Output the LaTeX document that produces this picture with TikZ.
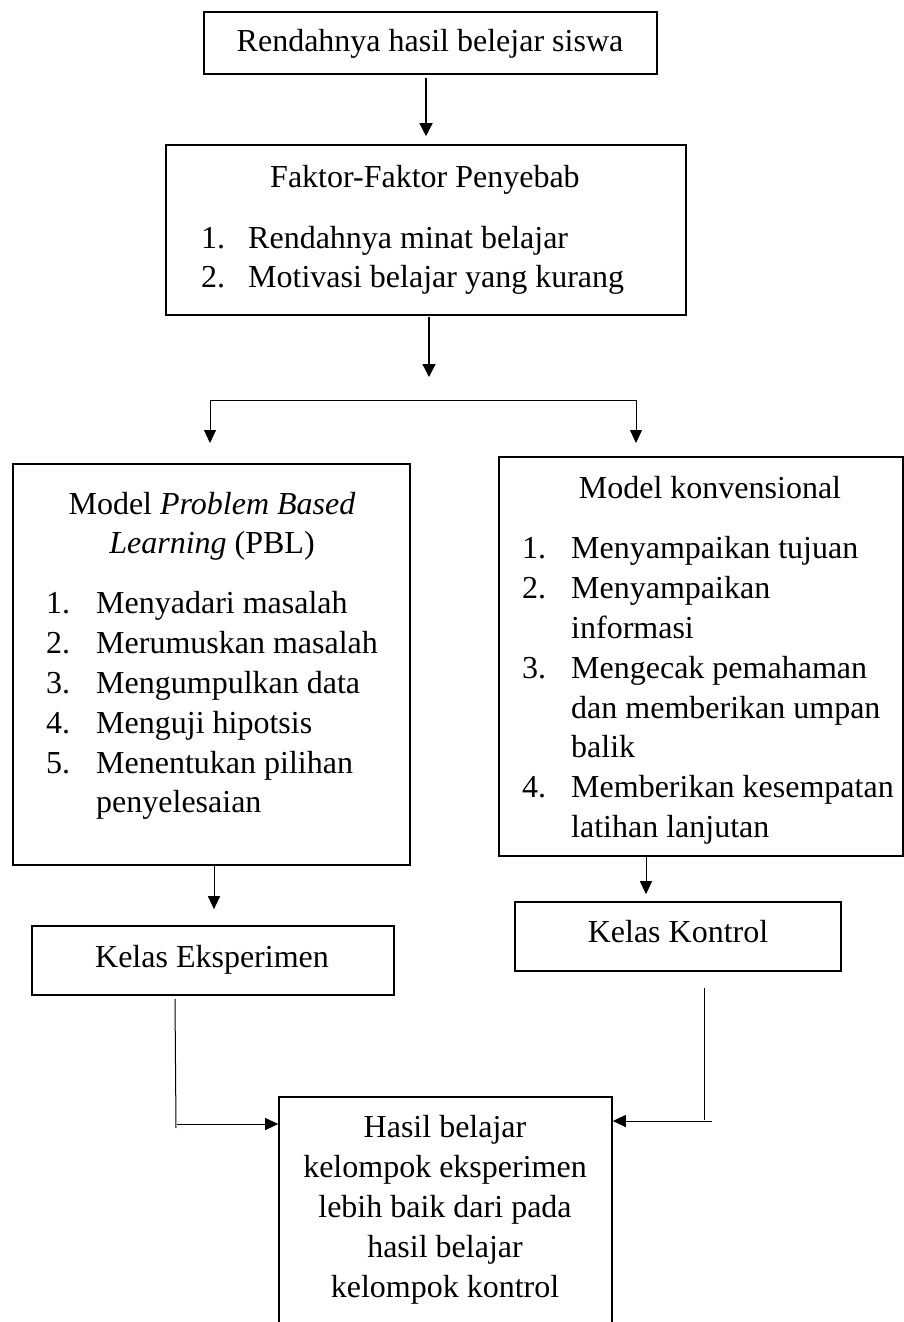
\documentclass[tikz,border=0pt]{standalone}
\usepackage{fontspec}
\setmainfont{Liberation Serif}
\usetikzlibrary{arrows.meta,calc}
\begin{document}
\begin{tikzpicture}[x=1pt,y=-1pt,
  box/.style={draw, line width=1.6pt, inner sep=0pt},
  txt/.style={inner sep=0pt, font=\fontsize{32}{40}\selectfont},
  conn/.style={line width=1pt},
  arr/.style={conn, -{Triangle[length=13pt,width=12pt]}},
  arrb/.style={line width=1.4pt, -{Triangle[length=13pt,width=13pt]}}]
\useasboundingbox (0,0) rectangle (904,1322);
\clip (0,0) rectangle (904,1322);
\fill[white] (0,0) rectangle (904,1322);
% boxes
\node[box, minimum width=453pt, minimum height=62pt] (b1) at (430.5,43) {};
\node[box, minimum width=520pt, minimum height=170pt] (b2) at (426,230) {};
\node[box, minimum width=397pt, minimum height=401pt] (pbl) at (211.5,664.5) {};
\node[box, minimum width=404pt, minimum height=399pt] (konv) at (701,656.5) {};
\node[box, minimum width=362pt, minimum height=69pt] (ke) at (213,960.5) {};
\node[box, minimum width=326pt, minimum height=69pt] (kk) at (678,936.5) {};
\node[box, minimum width=333pt, minimum height=243pt] (hasil) at (445.5,1218.5) {};
% texts
\node[txt, anchor=base] (t1) at (430,52) {Rendahnya hasil belejar siswa};
\node[txt, anchor=base] (t2) at (425,187) {Faktor-Faktor Penyebab};
\foreach \n/\t/\y [count=\i] in {1./Rendahnya minat belajar/248, 2./Motivasi belajar yang kurang/287}{
  \node[txt, anchor=base west] (fn\i) at (201,\y) {\n};
  \node[txt, anchor=base west] (ft\i) at (248,\y) {\t};
}
\node[txt, anchor=base] (pt1) at (212,514) {Model \textit{Problem Based}};
\node[txt, anchor=base] (pt2) at (212,553) {\textit{Learning} (PBL)};
\foreach \n/\t/\y [count=\i] in {1./Menyadari masalah/613, 2./Merumuskan masalah/653, 3./Mengumpulkan data/693, 4./Menguji hipotsis/733, 5./Menentukan pilihan/773, /penyelesaian/812}{
  \node[txt, anchor=base west] (pn\i) at (46,\y) {\n};
  \node[txt, anchor=base west] (pi\i) at (96,\y) {\t};
}
\node[txt, anchor=base] (kt1) at (710,498) {Model konvensional};
\foreach \n/\t/\y [count=\i] in {1./Menyampaikan tujuan/558, 2./Menyampaikan/598, /informasi/638, 3./Mengecak pemahaman/678, /dan memberikan umpan/718, /balik/757, 4./Memberikan kesempatan/797, /latihan lanjutan/837}{
  \node[txt, anchor=base west] (kn\i) at (522,\y) {\n};
  \node[txt, anchor=base west] (ki\i) at (571,\y) {\t};
}
\node[txt, anchor=base] (ket) at (212,967) {Kelas Eksperimen};
\node[txt, anchor=base] (kkt) at (678,942) {Kelas Kontrol};
\foreach \t/\y [count=\i] in {Hasil belajar/1137, kelompok eksperimen/1177, lebih baik dari pada/1217, hasil belajar/1257, kelompok kontrol/1297}{
  \node[txt, anchor=base] (h\i) at (445,\y) {\t};
}
% connectors
\draw[arrb] ([xshift=-4.5pt,yshift=-3pt]b1.south) -- ([yshift=8pt]b2.north);
\coordinate (a2end) at (429,377);
\draw[arrb] ([xshift=3pt,yshift=-1pt]b2.south) -- (a2end);
\coordinate (bl) at (210,400);
\coordinate (br) at (636,400);
\coordinate (blend) at (210,443);
\coordinate (brend) at (636,443);
\draw[conn] (bl) -- (br);
\draw[arr] (bl) -- (blend);
\draw[arr] (br) -- (brend);
\draw[arr] ([xshift=2.5pt]pbl.south) -- ([xshift=1pt,yshift=16pt]ke.north);
\draw[arr] ([xshift=-55pt]konv.south) -- ([xshift=-32pt,yshift=7pt]kk.north);
\coordinate (lv) at (176,1128);
\draw[conn] ([xshift=-38pt,yshift=-3pt]ke.south) -- (lv);
\coordinate (hl) at (177,1124);
\draw[arr] (hl) -- (hl -| hasil.west);
\coordinate (rv) at (704,1120);
\draw[conn] ([xshift=26pt,yshift=-16pt]kk.south) -- (rv);
\coordinate (hr) at (712,1121);
\draw[arr] (hr) -- (hr -| hasil.east);
\end{tikzpicture}
\end{document}
